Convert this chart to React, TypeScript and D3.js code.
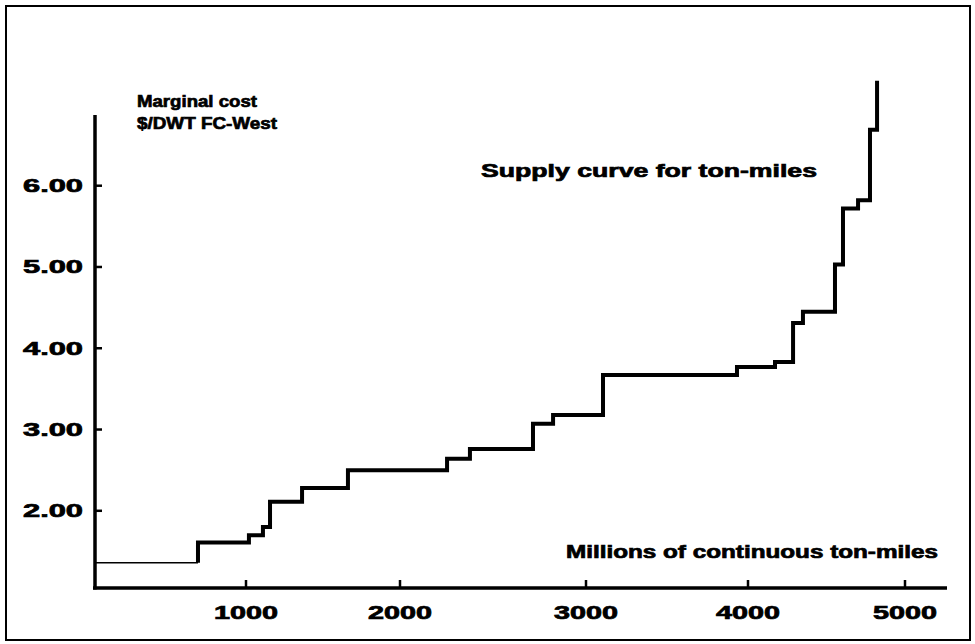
import { useEffect } from 'react';
import * as d3 from 'd3';

// Supply curve steps: cumulative ton-miles (millions) where each cost level starts
const stepStart = [0, 682, 1019, 1110, 1156, 1364, 1662, 2253, 2376, 2715, 2823, 3105, 3932, 4172, 4287, 4350, 4554, 4605, 4701, 4777, 4822];
// Marginal cost at each step ($/DWT FC-West)
const stepCost = [1.36, 1.61, 1.70, 1.80, 2.11, 2.28, 2.50, 2.64, 2.76, 3.07, 3.18, 3.67, 3.77, 3.83, 4.31, 4.45, 5.03, 5.72, 5.82, 6.69, 7.29];

const xTicks = [1000, 2000, 3000, 4000, 5000];
const yTicks = [2, 3, 4, 5, 6];

const FONT = '"Liberation Sans", Arial, sans-serif';
const W = 975;
const H = 644;

// printed lettering is wide and heavy, so text is stretched to the scanned widths
const Label = ({ x, y, w, size = 18, anchor = 'start', children }: any) => (
  <text
    x={x}
    y={y}
    textAnchor={anchor}
    fontFamily={FONT}
    fontWeight="bold"
    fontSize={size}
    textLength={w}
    lengthAdjust="spacingAndGlyphs"
    stroke="#000"
    strokeWidth={0.7}
  >
    {children}
  </text>
);

export default function App() {
  useEffect(() => {
    document.body.style.margin = '0';
  }, []);

  // scanned axis is slightly uneven, so the x scale follows the printed tick marks
  const x = d3.scaleLinear()
    .domain([0, 1000, 2000, 3000, 4000, 5000, 5270])
    .range([95, 246, 400, 586, 748, 905, 947]);

  const y = d3.scaleLinear()
    .domain([1.05, 6.87])
    .range([588, 115]);

  const pts = stepStart.map((s, i) => ({ x: s, y: stepCost[i] }));

  const line = d3.line<{ x: number; y: number }>()
    .x(d => x(d.x))
    .y(d => y(d.y))
    .curve(d3.curveStepAfter);

  // first flat stretch is printed as a hairline, the rest is heavy
  const thin = [pts[0], { x: pts[1].x, y: pts[0].y }];
  const thick = [{ x: pts[1].x, y: pts[0].y }, ...pts.slice(1)];

  const x0 = x.range()[0];
  const yBase = y.range()[0];

  return (
    <svg width={W} height={H} style={{ display: 'block', background: '#fff' }}>
      <rect x={6} y={6} width={964} height={634} fill="none" stroke="#000" strokeWidth={2} />

      {/* axes */}
      <line x1={x0} x2={x0} y1={y.range()[1]} y2={yBase + 1.5} stroke="#000" strokeWidth={3.5} />
      <line x1={x0 - 2} x2={x.range()[x.range().length - 1]} y1={yBase} y2={yBase} stroke="#000" strokeWidth={3.5} />

      {yTicks.map(t => (
        <g key={t}>
          <line x1={x0} x2={x0 + 7} y1={y(t)} y2={y(t)} stroke="#000" strokeWidth={2.5} />
          <Label x={83} y={y(t) + 6.5} w={60} anchor="end">{t.toFixed(2)}</Label>
        </g>
      ))}

      {xTicks.map(t => (
        <g key={t}>
          <line x1={x(t)} x2={x(t)} y1={yBase} y2={yBase - 8} stroke="#000" strokeWidth={2.5} />
          <Label x={x(t)} y={yBase + 31} w={64} anchor="middle">{t}</Label>
        </g>
      ))}

      {/* curve */}
      <path d={line(thin) ?? ''} fill="none" stroke="#000" strokeWidth={1.5} />
      <path d={line(thick) ?? ''} fill="none" stroke="#000" strokeWidth={4} strokeLinejoin="miter" />

      {/* labels */}
      <Label x={137} y={107} w={120} size={17}>Marginal cost</Label>
      <Label x={137} y={129} w={140} size={17}>$/DWT FC-West</Label>
      <Label x={481} y={177} w={336}>Supply curve for ton-miles</Label>
      <Label x={566} y={558} w={372}>Millions of continuous ton-miles</Label>
    </svg>
  );
}
